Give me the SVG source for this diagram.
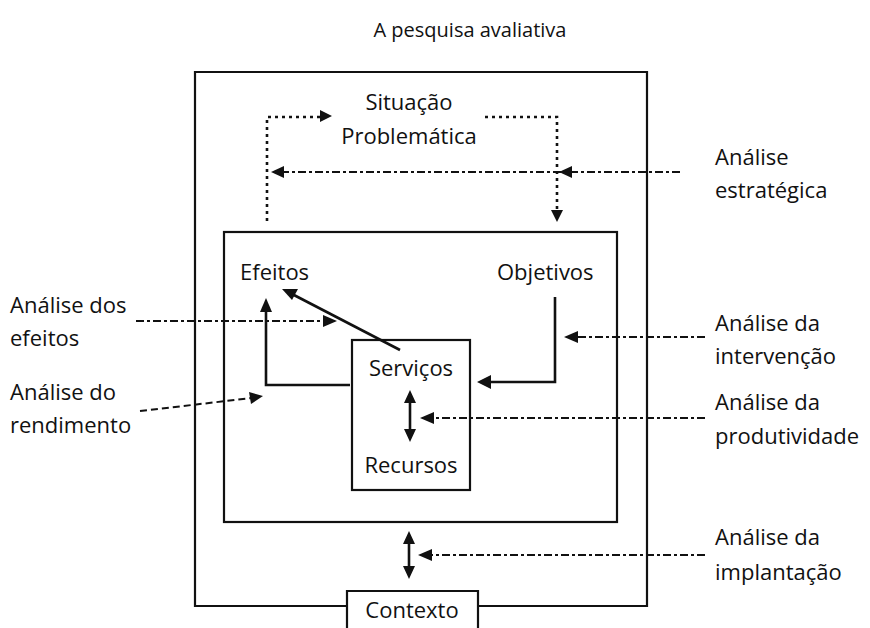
<svg xmlns="http://www.w3.org/2000/svg" width="870" height="628" viewBox="0 0 870 628">
<style>
text{font-family:"Open Sans","Liberation Sans",sans-serif;font-size:22px;fill:#111}
.title{font-size:20px}
.box{fill:none;stroke:#111;stroke-width:2.2}
.solid{fill:none;stroke:#111;stroke-width:2.6}
.dot{fill:none;stroke:#111;stroke-width:2.6;stroke-dasharray:3 4}
.dd{fill:none;stroke:#111;stroke-width:2;stroke-dasharray:8 3 3 3}
.dash{fill:none;stroke:#111;stroke-width:2;stroke-dasharray:7 4}
</style>
<rect width="870" height="628" fill="#fff"/>
<text class="title" x="470" y="37" text-anchor="middle">A pesquisa avaliativa</text>

<g id="outer"><path class="box" d="M347,606 H195 V72 H647 V606 H478"/></g>
<g id="contexto"><path class="box" d="M347,628 V591 H478 V628"/><text x="412" y="618" text-anchor="middle">Contexto</text></g>
<g id="situacao"><text x="409" y="110" text-anchor="middle">Situação</text><text x="409" y="144" text-anchor="middle">Problemática</text></g>
<g id="inner"><rect class="box" x="224" y="232" width="393" height="290"/></g>
<g id="efeitos"><text x="240" y="280">Efeitos</text></g>
<g id="objetivos"><text x="497" y="280">Objetivos</text></g>
<g id="servicos-recursos"><rect class="box" x="352" y="340" width="118" height="150"/><text x="411" y="376" text-anchor="middle">Serviços</text><text x="411" y="473" text-anchor="middle">Recursos</text></g>

<g id="labels">
<text x="715" y="165">Análise</text><text x="715" y="198">estratégica</text>
<text x="10" y="313">Análise dos</text><text x="10" y="346">efeitos</text>
<text x="10" y="400">Análise do</text><text x="10" y="433">rendimento</text>
<text x="715" y="331">Análise da</text><text x="715" y="364">intervenção</text>
<text x="715" y="410">Análise da</text><text x="715" y="444">produtividade</text>
<text x="715" y="545">Análise da</text><text x="715" y="580">implantação</text>
</g>

<g id="connectors">
<path class="dot" d="M267,221 V117 H322"/>
<path d="M320,110 L332,116 L320,122 z" fill="#111"/>
<path class="dot" d="M485,117 H557 V212"/>
<path d="M551,210 L557,222 L563,210 z" fill="#111"/>
<path class="dd" d="M680,172 H282"/>
<path d="M284,166 L271,172 L284,178 z" fill="#111"/>
<path d="M572,166 L559,172 L572,178 z" fill="#111"/>

<path class="solid" d="M400,350 L292,294"/>
<path d="M282,289 L298,289 L292,300 z" fill="#111"/>
<path class="solid" d="M350,385 H266 V310"/>
<path d="M260,312 L266,298 L272,312 z" fill="#111"/>
<path class="solid" d="M555,297 V382 H490"/>
<path d="M491,375 L477,382 L491,389 z" fill="#111"/>

<path class="dd" d="M136,321 H325"/>
<path d="M323,315 L337,321 L323,327 z" fill="#111"/>
<path class="dash" d="M140,411 L252,398"/>
<path d="M249,392 L263,396 L251,404 z" fill="#111"/>
<path class="dd" d="M705,337 H576"/>
<path d="M578,331 L564,337 L578,343 z" fill="#111"/>
<path class="dd" d="M705,418 H432"/>
<path d="M434,412 L420,418 L434,424 z" fill="#111"/>
<path class="solid" d="M410,400 V432"/>
<path d="M404,403 L410,390 L416,403 z M404,429 L410,442 L416,429 z" fill="#111"/>
<path class="dd" d="M705,555 H430"/>
<path d="M432,549 L418,555 L432,561 z" fill="#111"/>
<path class="solid" d="M409,542 V569"/>
<path d="M403,544 L409,531 L415,544 z M403,566 L409,579 L415,566 z" fill="#111"/>
</g>
</svg>
